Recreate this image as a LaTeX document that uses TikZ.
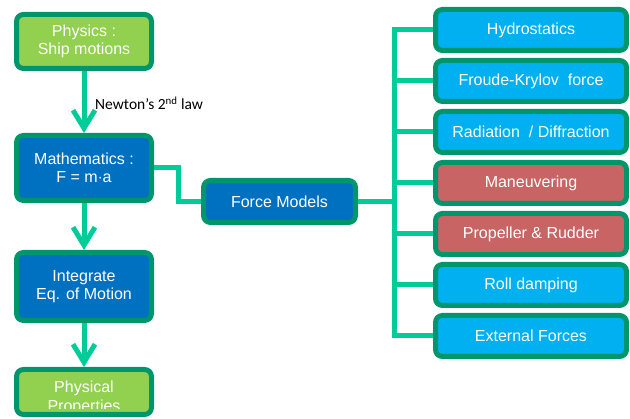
\documentclass[tikz,border=0pt]{standalone}
\usepackage{fontspec}
\setmainfont{Liberation Sans}
\newfontfamily\calibrifont{Carlito}
\usetikzlibrary{arrows.meta}
\definecolor{edgegreen}{HTML}{00966C}
\definecolor{linkgreen}{HTML}{00CC99}
\definecolor{leafgreen}{HTML}{92D050}
\definecolor{deepblue}{HTML}{0070C0}
\definecolor{skyblue}{HTML}{00B0F0}
\definecolor{brickred}{HTML}{C86464}
\begin{document}
\begin{tikzpicture}[x=1pt,y=-1pt,
  box/.style={draw=edgegreen, line width=5pt, rounded corners=7pt, text=white,
    align=center, font=\fontsize{16}{18.5}\selectfont, inner sep=0pt},
  leftbox/.style={box, minimum width=135pt},
  rightbox/.style={box, minimum width=191pt, minimum height=41pt},
  conn/.style={draw=linkgreen, line width=5pt},
  flow/.style={conn, -{Straight Barb[length=18pt,width=22pt]}},
]
\useasboundingbox (0,0) rectangle (630,419);

% left column: physics -> mathematics -> integration -> properties
\node[leftbox, fill=leafgreen, minimum height=54pt] (phys) at (84,41.5) {Physics :\\Ship motions};
\node[leftbox, fill=deepblue, minimum height=65pt] (math) at (84,168) {Mathematics :\\F = m$\cdot$a};
\node[leftbox, fill=deepblue, minimum height=68pt] (integ) at (84,286.5) {Integrate\\Eq. of Motion};
\node[leftbox, fill=leafgreen, minimum height=45pt] (props) at (84,392) {};
\begin{scope}
  \clip (0,0) rectangle (630,409);
  \node[align=center, text=white, inner sep=0pt, font=\fontsize{16}{18.5}\selectfont] (propstext) at (84,398) {Physical\\Properties};
\end{scope}

% force model hub
\node[box, fill=deepblue, minimum width=152pt, minimum height=42pt] (force) at (279.5,201.5) {Force Models};

% force components
\node[rightbox, fill=skyblue]  (hydro) at (531,30)  {Hydrostatics};
\node[rightbox, fill=skyblue]  (fk)    at (531,81)  {Froude-Krylov\ \ force};
\node[rightbox, fill=skyblue]  (rad)   at (531,132) {Radiation\ \ / Diffraction};
\node[rightbox, fill=brickred] (man)   at (531,183) {Maneuvering};
\node[rightbox, fill=brickred] (prop)  at (531,234) {Propeller \& Rudder};
\node[rightbox, fill=skyblue]  (roll)  at (531,285) {Roll damping};
\node[rightbox, fill=skyblue]  (ext)   at (531,336) {External Forces};

% arrows down the left column
\draw[flow] (phys) -- (math);
\draw[flow] (math) -- (integ);
\draw[flow] (integ) -- (props);
\node[anchor=base west, inner sep=0pt, font=\calibrifont\fontsize{15.5}{18}\selectfont] (newton) at (95,110) {Newton’s 2\textsuperscript{nd} law};

% mathematics to force models
\draw[conn] (math.east) -- ++(24,0) |- (force.west);

% bus to the force components
\coordinate (busx) at (394,0);
\draw[conn] (force.east) -- (force.east -| busx);
\draw[conn] (hydro.west) -- (hydro.west -| busx) -- (ext.west -| busx) -- (ext.west);
\foreach \n in {fk,rad,man,prop,roll}
  \draw[conn] (\n.west -| busx) -- (\n.west);
\end{tikzpicture}
\end{document}
